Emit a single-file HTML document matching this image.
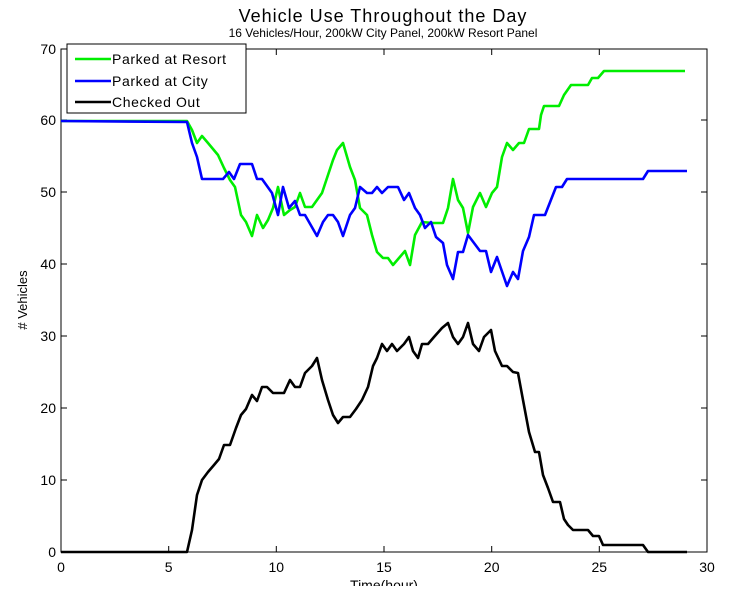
<!DOCTYPE html>
<html><head><style>
body{margin:0;background:#fff;}
svg text{font-family:"Liberation Sans",sans-serif;}
</style></head><body>
<svg width="732" height="586" viewBox="0 0 732 586" xmlns="http://www.w3.org/2000/svg">
<rect width="732" height="586" fill="#fff"/>
<text x="383" y="22" font-size="18" text-anchor="middle" letter-spacing="1">Vehicle Use Throughout the Day</text>
<text x="383" y="37" font-size="12" text-anchor="middle">16 Vehicles/Hour, 200kW City Panel, 200kW Resort Panel</text>
<rect x="61" y="49" width="646" height="503" fill="none" stroke="#000" stroke-width="1"/>
<g stroke="#000" stroke-width="1">
<line x1="168.7" y1="552" x2="168.7" y2="546"/><line x1="276.3" y1="552" x2="276.3" y2="546"/><line x1="384" y1="552" x2="384" y2="546"/><line x1="491.7" y1="552" x2="491.7" y2="546"/><line x1="599.3" y1="552" x2="599.3" y2="546"/>
<line x1="168.7" y1="49" x2="168.7" y2="55"/><line x1="276.3" y1="49" x2="276.3" y2="55"/><line x1="384" y1="49" x2="384" y2="55"/><line x1="491.7" y1="49" x2="491.7" y2="55"/><line x1="599.3" y1="49" x2="599.3" y2="55"/>
<line x1="61" y1="480" x2="67" y2="480"/><line x1="61" y1="408" x2="67" y2="408"/><line x1="61" y1="336" x2="67" y2="336"/><line x1="61" y1="264" x2="67" y2="264"/><line x1="61" y1="192" x2="67" y2="192"/><line x1="61" y1="120" x2="67" y2="120"/>
<line x1="707" y1="480" x2="701" y2="480"/><line x1="707" y1="408" x2="701" y2="408"/><line x1="707" y1="336" x2="701" y2="336"/><line x1="707" y1="264" x2="701" y2="264"/><line x1="707" y1="192" x2="701" y2="192"/><line x1="707" y1="120" x2="701" y2="120"/>
</g>
<g font-size="14" text-anchor="end">
<text x="56" y="557">0</text><text x="56" y="485">10</text><text x="56" y="413">20</text><text x="56" y="341">30</text><text x="56" y="269">40</text><text x="56" y="197">50</text><text x="56" y="125">60</text><text x="56" y="54">70</text>
</g>
<g font-size="14" text-anchor="middle">
<text x="61" y="572">0</text><text x="168.7" y="572">5</text><text x="276.3" y="572">10</text><text x="384" y="572">15</text><text x="491.7" y="572">20</text><text x="599.3" y="572">25</text><text x="707" y="572">30</text>
<text x="384" y="590">Time(hour)</text>
</g>
<text x="27" y="300" font-size="13" text-anchor="middle" transform="rotate(-90 27 300)"># Vehicles</text>
<g fill="none" stroke-width="2.6" stroke-linejoin="round">
<polyline stroke="#00ee00" points="61,121 187,121 192,130 197,143 202,136 208,143 218,155 224,168 230,180 235,187 241,215 246,222 252,236 257,215 263,228 268,220 273,208 278,187 284,215 290,210 295,207 300,193 305,207 312,207 317,200 322,193 328,175 333,160 337,150 343,143 350,167 355,180 360,208 367,215 372,235 377,252 383,258 388,258 393,265 399,258 405,251 410,265 415,235 422,222 433,223 443,223 448,208 453,179 458,200 463,208 468,233 473,207 480,193 486,207 492,193 497,187 502,157 507,143 513,150 519,143 524,143 529,129 539,129 541,115 544,106 559,106 564,95 571,85 588,85 592,78 598,78 604,71 685,71"/>
<polyline stroke="#0000ff" points="61,121 187,122 192,143 197,157 202,179 223,179 229,172 234,179 240,164 252,164 257,179 262,179 272,193 278,215 283,187 289,208 295,201 300,215 305,215 317,236 323,222 328,215 333,215 338,222 343,236 350,215 355,208 360,187 367,193 372,193 377,187 382,193 388,187 398,187 404,200 409,193 415,208 420,215 425,228 431,222 436,237 443,243 447,265 453,279 458,252 463,252 468,235 474,243 480,251 486,251 491,272 497,257 507,286 513,272 518,279 523,251 529,237 534,215 545,215 556,187 562,187 567,179 643,179 648,171 687,171"/>
<polyline stroke="#000" points="61,552 187,552 192,530 197,495 202,480 208,472 214,465 219,459 224,445 230,445 236,428 241,415 246,409 252,395 257,401 262,387 267,387 273,393 284,393 290,380 295,387 300,387 305,373 312,366 317,358 322,380 328,400 333,415 338,423 343,417 350,417 356,409 362,400 368,387 373,366 377,358 382,344 387,351 392,344 397,351 404,344 409,337 413,351 418,358 422,344 428,344 434,337 442,328 448,323 453,337 458,344 463,337 468,323 473,344 479,351 484,337 491,330 495,351 502,366 507,366 513,372 518,373 523,400 529,432 535,452 539,452 543,475 548,488 553,502 560,502 564,519 568,525 573,530 588,530 593,536 599,536 603,545 643,545 648,552 687,552"/>
</g>
<rect x="67" y="44" width="179" height="69" fill="#fff" stroke="#000" stroke-width="1"/>
<g stroke-width="2.6">
<line x1="75" y1="59" x2="111" y2="59" stroke="#00ee00"/>
<line x1="75" y1="81" x2="111" y2="81" stroke="#0000ff"/>
<line x1="75" y1="102" x2="111" y2="102" stroke="#000"/>
</g>
<g font-size="14" letter-spacing="0.6">
<text x="112" y="64">Parked at Resort</text>
<text x="112" y="86">Parked at City</text>
<text x="112" y="107">Checked Out</text>
</g>
</svg>
</body></html>
